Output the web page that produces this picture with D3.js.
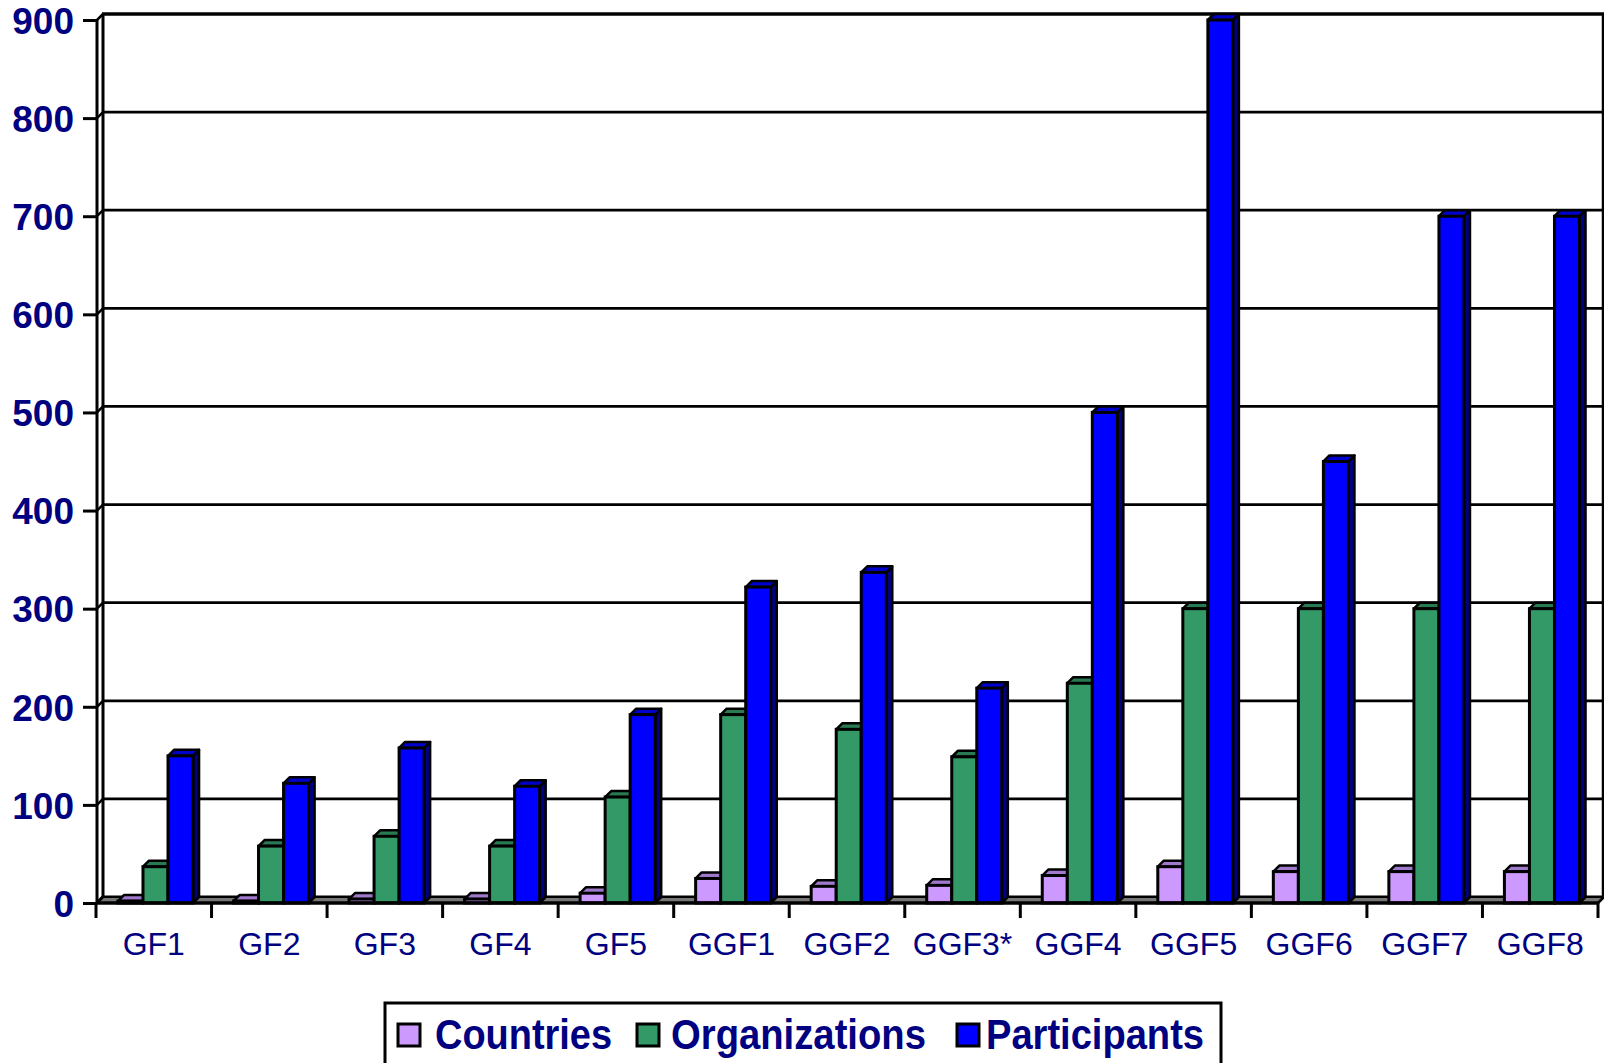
<!DOCTYPE html>
<html>
<head>
<meta charset="utf-8">
<script src="https://cdn.jsdelivr.net/npm/d3@7"></script>
<style>
  body { margin: 0; background: #fff; }
  text { font-family: "Liberation Sans", Arial, sans-serif; }
</style>
</head>
<body>
<div id="chart"></div>
<script>
var svgWidth = 1604;
var svgHeight = 1063;

// data
var categories = ["GF1", "GF2", "GF3", "GF4", "GF5", "GGF1", "GGF2", "GGF3*", "GGF4", "GGF5", "GGF6", "GGF7", "GGF8"];
var seriesNames = ["Countries", "Organizations", "Participants"];
var countries = [2, 2, 4, 4, 10, 25, 17, 18, 28, 37, 32, 32, 32];
var organizations = [37, 58, 68, 58, 108, 192, 177, 149, 224, 300, 300, 300, 300];
var participants = [150, 122, 158, 119, 192, 322, 337, 219, 500, 900, 450, 700, 700];
var yTicks = [0, 100, 200, 300, 400, 500, 600, 700, 800, 900];

var front = {"Countries": "#cc99ff", "Organizations": "#339966", "Participants": "#0000ff"};
var top_ = {"Countries": "#9f7acc", "Organizations": "#287a52", "Participants": "#0000cc"};
var side = {"Countries": "#66509a", "Organizations": "#1d5c3d", "Participants": "#000080"};
var navy = "#000080";

// depth offset of the 3d look
var dx = 6, dy = 6;

var svg = d3.select("#chart")
    .append("svg")
    .attr("width", svgWidth)
    .attr("height", svgHeight);

var yScale = d3.scaleLinear().domain([0, 900]).range([903, 20]);
var x0 = d3.scaleBand().domain(categories).range([96, 1598]).paddingInner(0).paddingOuter(0);
var W = x0.bandwidth();
var x1 = d3.scaleBand().domain(seriesNames).range([W * 0.19, W * 0.84]).padding(0);

var rows = categories.map(function(c, i) {
    return {cat: c, values: [
        {key: "Countries", value: countries[i]},
        {key: "Organizations", value: organizations[i]},
        {key: "Participants", value: participants[i]}
    ]};
});

var xL = 96, xR = 1598;

// back wall gridlines
svg.append("g").selectAll("line")
  .data(yTicks)
  .enter()
  .append("line")
  .attr("x1", xL + dx)
  .attr("x2", xR + dx)
  .attr("y1", function(d) { return yScale(d) - dy; })
  .attr("y2", function(d) { return yScale(d) - dy; })
  .attr("stroke", "#000")
  .attr("stroke-width", function(d) { return d === 900 ? 3.5 : 2.8; });

// back wall edges
svg.append("line")
  .attr("x1", xL + dx + 1).attr("x2", xL + dx + 1)
  .attr("y1", yScale(900) - dy).attr("y2", yScale(0) - dy)
  .attr("stroke", "#000").attr("stroke-width", 3);
svg.append("line")
  .attr("x1", xR + dx - 1).attr("x2", xR + dx - 1)
  .attr("y1", yScale(900) - dy).attr("y2", yScale(0) - dy)
  .attr("stroke", "#000").attr("stroke-width", 2.5);

// floor
svg.append("polygon")
  .attr("points", [[xL, yScale(0)], [xR, yScale(0)], [xR + dx, yScale(0) - dy], [xL + dx, yScale(0) - dy]].join(" "))
  .attr("fill", "#777")
  .attr("stroke", "#000")
  .attr("stroke-width", 2);

// bars
var groups = svg.append("g").selectAll("g")
  .data(rows)
  .enter()
  .append("g")
  .attr("transform", function(d) { return "translate(" + x0(d.cat) + ",0)"; });

var bars = groups.selectAll("g")
  .data(function(d) { return d.values; })
  .enter()
  .append("g");

bars.append("polygon")
  .attr("points", function(d) {
      var x = x1(d.key), w = x1.bandwidth(), y = yScale(d.value), b = yScale(0);
      return [[x + w, b], [x + w + dx, b - dy], [x + w + dx, y - dy], [x + w, y]].join(" ");
  })
  .attr("fill", function(d) { return side[d.key]; })
  .attr("stroke", "#000")
  .attr("stroke-width", 2.5)
  .attr("stroke-linejoin", "round");

bars.append("polygon")
  .attr("points", function(d) {
      var x = x1(d.key), w = x1.bandwidth(), y = yScale(d.value);
      return [[x, y], [x + w, y], [x + w + dx, y - dy], [x + dx, y - dy]].join(" ");
  })
  .attr("fill", function(d) { return top_[d.key]; })
  .attr("stroke", "#000")
  .attr("stroke-width", 2.5)
  .attr("stroke-linejoin", "round");

bars.append("rect")
  .attr("x", function(d) { return x1(d.key); })
  .attr("y", function(d) { return yScale(d.value); })
  .attr("width", x1.bandwidth())
  .attr("height", function(d) { return yScale(0) - yScale(d.value); })
  .attr("fill", function(d) { return front[d.key]; })
  .attr("stroke", "#000")
  .attr("stroke-width", 3);

// front y axis
svg.append("line")
  .attr("x1", xL + 1).attr("x2", xL + 1)
  .attr("y1", yScale(0)).attr("y2", yScale(900))
  .attr("stroke", "#000").attr("stroke-width", 3);
svg.append("g").selectAll("line")
  .data(yTicks)
  .enter()
  .append("line")
  .attr("x1", xL + 1).attr("x2", xL + dx + 1)
  .attr("y1", function(d) { return yScale(d); })
  .attr("y2", function(d) { return yScale(d) - dy; })
  .attr("stroke", "#000").attr("stroke-width", 2.5);

var yAxis = d3.axisLeft(yScale).tickValues(yTicks).tickSize(14).tickPadding(9);
var gy = svg.append("g")
  .attr("transform", "translate(" + (xL + 1) + ",0)")
  .call(yAxis);
gy.select(".domain").remove();
gy.selectAll(".tick line").attr("stroke", "#000").attr("stroke-width", 3);
gy.selectAll(".tick text")
  .attr("fill", navy)
  .attr("font-size", "37px")
  .attr("font-weight", "bold")
  .attr("dy", "0.36em")
  .attr("font-family", "'Liberation Sans', Arial, sans-serif");

// front x axis
svg.append("line")
  .attr("x1", xL).attr("x2", xR)
  .attr("y1", yScale(0)).attr("y2", yScale(0))
  .attr("stroke", "#000").attr("stroke-width", 3.5);
svg.append("line")
  .attr("x1", xR).attr("x2", xR + dx)
  .attr("y1", yScale(0)).attr("y2", yScale(0) - dy)
  .attr("stroke", "#000").attr("stroke-width", 2.5);

svg.append("g").selectAll("line")
  .data(categories.map(function(c) { return x0(c); }).concat([xR]))
  .enter()
  .append("line")
  .attr("x1", function(d) { return d; })
  .attr("x2", function(d) { return d; })
  .attr("y1", yScale(0))
  .attr("y2", yScale(0) + 15)
  .attr("stroke", "#000")
  .attr("stroke-width", 3);

svg.append("g").selectAll("text")
  .data(categories)
  .enter()
  .append("text")
  .attr("x", function(d) { return x0(d) + W / 2; })
  .attr("y", 955)
  .attr("text-anchor", "middle")
  .attr("font-size", "32px")
  .attr("fill", navy)
  .text(function(d) { return d; });

// legend
var legend = svg.append("g");
legend.append("rect")
  .attr("x", 385).attr("y", 1003)
  .attr("width", 836).attr("height", 90)
  .attr("fill", "#fff")
  .attr("stroke", "#000")
  .attr("stroke-width", 3);

var legendItems = [
  {key: "Countries", sx: 398, tx: 435, tw: 177},
  {key: "Organizations", sx: 637, tx: 671, tw: 255},
  {key: "Participants", sx: 957, tx: 986, tw: 218}
];

legend.selectAll(".sw")
  .data(legendItems)
  .enter()
  .append("rect")
  .attr("class", "sw")
  .attr("x", function(d) { return d.sx; })
  .attr("y", 1024)
  .attr("width", 22)
  .attr("height", 22)
  .attr("fill", function(d) { return front[d.key]; })
  .attr("stroke", "#000")
  .attr("stroke-width", 3);

legend.selectAll(".lt")
  .data(legendItems)
  .enter()
  .append("text")
  .attr("class", "lt")
  .attr("x", function(d) { return d.tx; })
  .attr("y", 1049)
  .attr("font-size", "42px")
  .attr("font-weight", "bold")
  .attr("fill", navy)
  .attr("textLength", function(d) { return d.tw; })
  .attr("lengthAdjust", "spacingAndGlyphs")
  .text(function(d) { return d.key; });
</script>
</body>
</html>
